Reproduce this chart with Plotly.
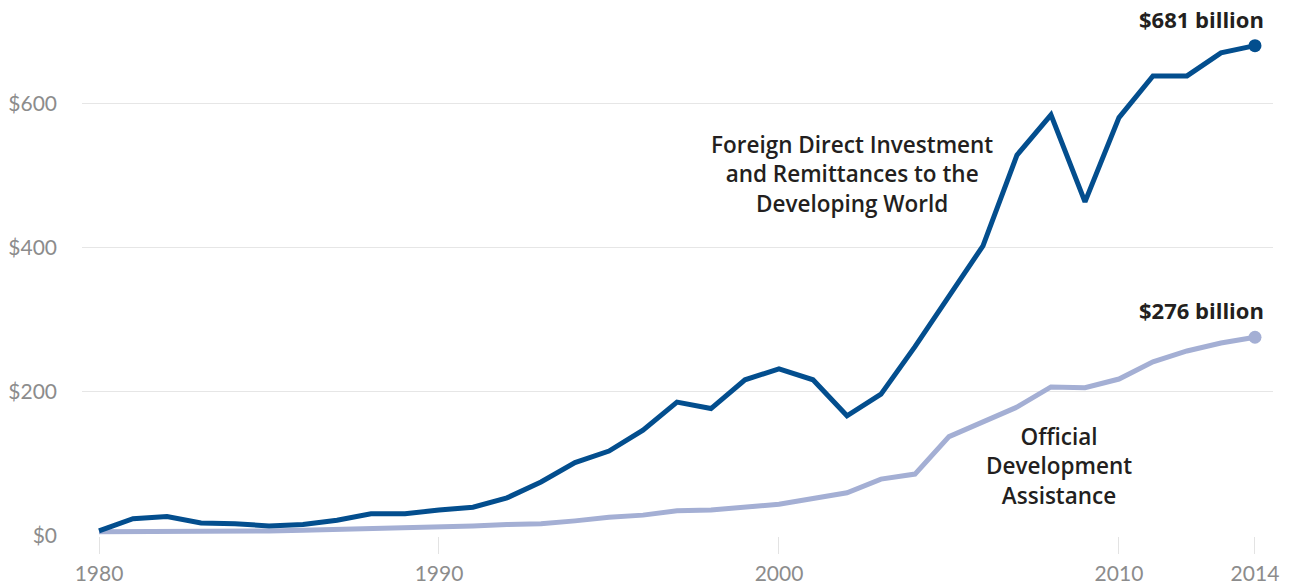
import plotly.graph_objects as go

years = list(range(1980, 2015))
fdi_remit = [7, 24, 27, 18, 17, 14, 16, 22, 31, 31, 36, 40, 53, 75, 102, 118, 147, 186, 177, 217,
             232, 217, 167, 197, 263, 332, 403, 529, 585, 464, 581, 639, 639, 671, 681]
oda = [6, 6, 7, 7, 7, 7, 8, 9, 10, 11, 12, 14, 16, 17, 21, 26, 29, 35, 36, 40,
       44, 52, 60, 79, 86, 138, 159, 179, 207, 206, 218, 242, 257, 268, 276]

y_ticks = [0, 200, 400, 600]
y_tick_labels = ["$0", "$200", "$400", "$600"]
x_ticks = [1980, 1990, 2000, 2010, 2014]
x_tick_labels = ["1980", "1990", "2000", "2010", "2014"]

fdi_label = ["Foreign Direct Investment", "and Remittances to the", "Developing World"]
oda_label = ["Official", "Development", "Assistance"]

dark = "#034e8e"
light = "#a4afd4"
text_c = "#231f20"
grey = "#8c8c8c"
ann_font = "Open Sans"

fig = go.Figure()
fig.add_trace(go.Scatter(x=years, y=oda, mode="lines", line=dict(color=light, width=5),
                         hoverinfo="skip", showlegend=False))
fig.add_trace(go.Scatter(x=years, y=fdi_remit, mode="lines", line=dict(color=dark, width=5),
                         hoverinfo="skip", showlegend=False))
fig.add_trace(go.Scatter(x=[years[-1]], y=[oda[-1]], mode="markers",
                         marker=dict(color=light, size=13), showlegend=False, cliponaxis=False))
fig.add_trace(go.Scatter(x=[years[-1]], y=[fdi_remit[-1]], mode="markers",
                         marker=dict(color=dark, size=13), showlegend=False, cliponaxis=False))

fig.add_annotation(x=years[-1], y=fdi_remit[-1], text="<b>$%d billion</b>" % fdi_remit[-1],
                   showarrow=False, xanchor="right", yanchor="bottom", xshift=11, yshift=10,
                   font=dict(family=ann_font, size=22, color=text_c))
fig.add_annotation(x=years[-1], y=oda[-1], text="<b>$%d billion</b>" % oda[-1],
                   showarrow=False, xanchor="right", yanchor="bottom", xshift=11, yshift=10,
                   font=dict(family=ann_font, size=22, color=text_c))

fig.add_annotation(x=2002.15, y=503, text="<br>".join(fdi_label), showarrow=False,
                   xanchor="center", yanchor="middle", align="center",
                   font=dict(family=ann_font, size=22.5, color=text_c, weight=600))
fig.add_annotation(x=2008.24, y=97, text="<br>".join(oda_label), showarrow=False,
                   xanchor="center", yanchor="middle", align="center",
                   font=dict(family=ann_font, size=22.5, color=text_c, weight=600))

fig.update_layout(
    width=1290, height=586,
    margin=dict(l=82, r=17, t=10, b=50),
    plot_bgcolor="white", paper_bgcolor="white",
    xaxis=dict(range=[1979.5, 2014.53], tickvals=x_ticks, ticktext=x_tick_labels,
               showgrid=False, zeroline=False, showline=False, automargin=False,
               ticks="outside", ticklen=17, tickwidth=1, tickcolor="#e3e3e3",
               tickfont=dict(family="Lato", size=21, color=grey), ticklabelstandoff=2),
    yaxis=dict(range=[0, 730.5], tickvals=y_ticks, ticktext=y_tick_labels,
               showgrid=True, gridcolor="#e6e6e6", gridwidth=1.3, zeroline=False, showline=False,
               automargin=False,
               ticks="", tickfont=dict(family="Lato", size=21, color=grey), ticklabelstandoff=24),
)
fig.write_html("out.html")
